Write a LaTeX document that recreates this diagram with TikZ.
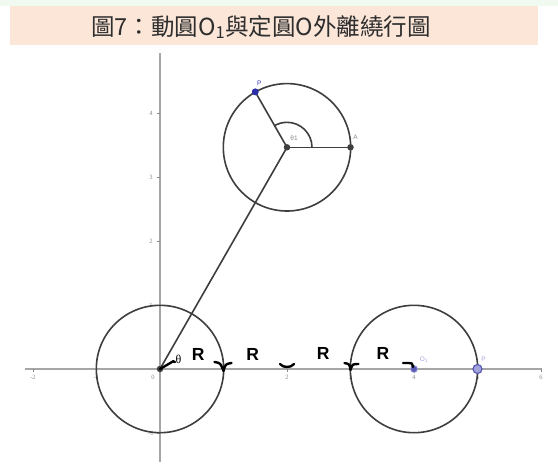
\documentclass[tikz,border=0pt]{standalone}
\usepackage{fontspec}
\setmainfont{Liberation Serif}
\newfontfamily\cjk{Noto Sans CJK TC}
\newfontfamily\rfont{Liberation Sans}
\definecolor{bandgreen}{HTML}{F0FAF1}
\definecolor{bandpeach}{HTML}{FBE6D8}
\definecolor{axisgray}{HTML}{A6A6A6}
\definecolor{circgray}{HTML}{3E3E3E}
\definecolor{ticktext}{HTML}{8A8A8A}
\definecolor{titletext}{HTML}{2E2E2E}
\definecolor{ptblue}{HTML}{2A2FA8}
\definecolor{lilac}{HTML}{A3A3DC}
\definecolor{lilacdark}{HTML}{5A5AB4}
\tikzset{
  axisline/.style={draw=axisgray,line width=1.6pt},
  circline/.style={draw=circgray,line width=1.6pt},
  darkdot/.style={circle,fill=circgray,inner sep=0pt,minimum size=6.5pt},
  bluedot/.style={circle,fill=ptblue,inner sep=0pt,minimum size=7pt},
  o1dot/.style={circle,fill=lilacdark,draw=lilac,line width=0.8pt,inner sep=0pt,minimum size=7pt},
  pdot/.style={circle,fill=lilac,draw=lilacdark,line width=1.2pt,inner sep=0pt,minimum size=9pt},
  ticklab/.style={text=ticktext,font=\fontsize{6.5}{6.5}\selectfont,inner sep=0pt},
  smalllab/.style={font=\rfont\fontsize{6.5}{7}\selectfont,inner sep=0pt},
  rlab/.style={font=\rfont\bfseries\fontsize{17.5}{17.5}\selectfont,inner sep=0pt},
  bracemark/.style={draw=black,line width=2.4pt,line cap=round,line join=round},
}
\begin{document}
\begin{tikzpicture}[x=1pt,y=-1pt]
\useasboundingbox (0,0) rectangle (558,464);
\fill[white] (0,0) rectangle (558,464);
\fill[bandgreen] (0,0) rectangle (558,6);
\fill[bandpeach] (10,6) rectangle (538,45);
\node[font=\cjk\fontsize{23.5}{25}\selectfont,text=titletext,inner sep=0pt] (title) at (261,27)
  {圖7：動圓O\textsubscript{1}與定圓O外離繞行圖};
\begin{scope}[shift={(160,369)},x=63.5pt,y=64pt]
  % axes
  \coordinate (xl) at (-2.13,0);
  \coordinate (xr) at (6.02,0);
  \coordinate (yb) at (0,-1.46);
  \coordinate (yt) at (0,4.94);
  \draw[axisline] (xl) -- (xr);
  \draw[axisline] (yb) -- (yt);
  % ticks and labels
  \foreach \x in {-2,-1,1,2,3,4,5,6} {
    \draw[draw=ticktext,line width=0.6pt] (\x,0) -- ++(0,-3pt);
    \node[ticklab] at ([yshift=-8pt]\x,0) {\x};
  }
  \node[ticklab] at ([xshift=-7pt,yshift=-8pt]0,0) {0};
  \foreach \y in {-1,1,2,3,4} {
    \draw[draw=ticktext,line width=0.6pt] (0,\y) -- ++(-3pt,0);
    \node[ticklab] at ([xshift=-9pt]0,\y) {\y};
  }
  % points
  \coordinate (O) at (0,0);
  \coordinate (C) at (2,3.464);
  \coordinate (A) at (3,3.464);
  \coordinate (P) at (1.5,4.330);
  \coordinate (O1) at (4,0);
  \coordinate (Q) at (5,0);
  % circles
  \draw[circline] (O) circle[radius=63.7pt];
  \draw[circline] (C) circle[radius=63.7pt];
  \draw[circline] (O1) circle[radius=63.7pt];
  % segments
  \draw[circline] (O) -- (C);
  \draw[circline] (C) -- (A);
  \draw[circline] (C) -- (P);
  % theta1 arc
  \draw[circline] ([shift={(0:25pt)}]C) arc[start angle=0,end angle=120,radius=25pt];
  % dots
  \node[darkdot] (Odot) at (O) {};
  \node[darkdot] (Cdot) at (C) {};
  \node[darkdot] (Adot) at (A) {};
  \node[bluedot] (Pdot) at (P) {};
  \node[o1dot] (O1dot) at (O1) {};
  \node[pdot] (Qdot) at (Q) {};
  % labels
  \node[smalllab,text=ticktext] (t1) at ([shift={(7pt,9pt)}]C) {θ1};
  \node[smalllab,text=ticktext] (Alab) at ([shift={(5pt,10pt)}]A) {A};
  \node[smalllab,text=ptblue] (Plab) at ([shift={(4pt,9pt)}]P) {P};
  \node[smalllab,text=lilac] (O1lab) at ([shift={(10pt,9pt)}]O1) {O\textsubscript{1}};
  \node[smalllab,text=lilac] (Qlab) at ([shift={(6pt,10pt)}]Q) {P};
  \node[font=\fontsize{12}{12}\selectfont,inner sep=0pt] (th) at (0.29,0.15) {θ};
  \node[rlab] (R1) at (0.6,0.22) {R};
  \node[rlab] (R2) at (1.46,0.22) {R};
  \node[rlab] (R3) at (2.57,0.25) {R};
  \node[rlab] (R4) at (3.51,0.25) {R};
  % brace remnants
  \draw[bracemark] (O) .. controls ([shift={(6pt,3pt)}]O) .. ([shift={(12pt,7pt)}]O)
     .. controls ([shift={(13pt,8pt)}]O) .. ([shift={(15pt,7pt)}]O);
  \coordinate (X1) at (1,0);
  \draw[bracemark] ([shift={(-9pt,7pt)}]X1) .. controls ([shift={(-3pt,6pt)}]X1) .. ([shift={(0pt,-2pt)}]X1)
     .. controls ([shift={(2pt,5pt)}]X1) .. ([shift={(8pt,6pt)}]X1);
  \coordinate (X2) at (2,0);
  \draw[bracemark] ([shift={(-7pt,5pt)}]X2) .. controls ([shift={(-4pt,1pt)}]X2) and ([shift={(4pt,1pt)}]X2) .. ([shift={(7pt,5pt)}]X2);
  \coordinate (X3) at (3,0);
  \draw[bracemark] ([shift={(-6pt,6pt)}]X3) .. controls ([shift={(-1pt,5pt)}]X3) .. ([shift={(0pt,-1pt)}]X3)
     .. controls ([shift={(2pt,5pt)}]X3) .. ([shift={(8pt,5pt)}]X3);
  \draw[bracemark] ([shift={(-11pt,6pt)}]O1) -- ([shift={(-5pt,6pt)}]O1) .. controls ([shift={(-2pt,6pt)}]O1) .. ([shift={(-1pt,2pt)}]O1);
\end{scope}
\end{tikzpicture}
\end{document}
